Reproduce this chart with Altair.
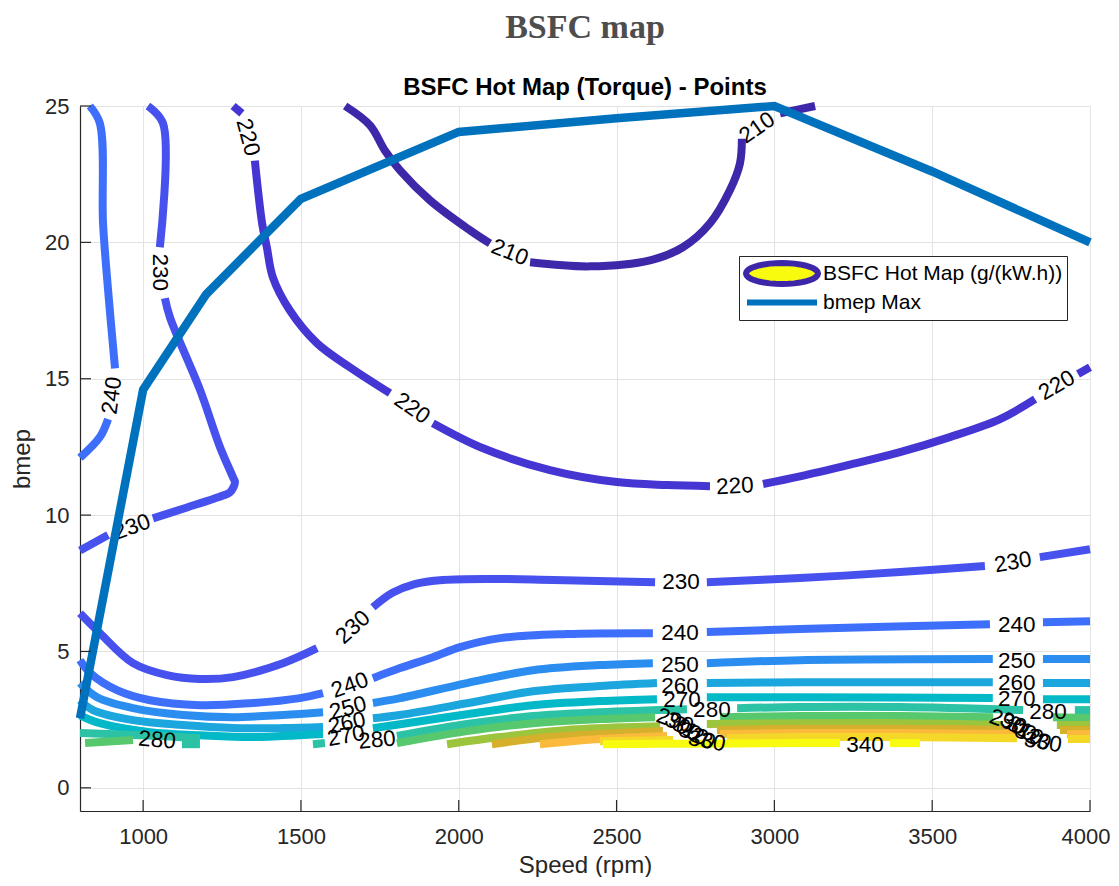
import math
import altair as alt
import pandas as pd

# ---------------- data ----------------
levels = [210, 220, 230, 240, 250, 260, 270, 280, 290, 300, 310, 320, 330, 340]
level_colors = ["#3e27a9", "#4535d3", "#4751ed", "#3e6ffa", "#2b8def", "#1ca6de", "#03b8c7",
                "#2cc2a5", "#57c86e", "#9cc43c", "#d5b02c", "#fbba3b", "#f3d829", "#f8fa0f"]

# contour segments (speed rpm, bmep) ; gaps are where labels sit
c210 = [
    [(1640, 25.0), (1719, 24.29), (1766, 23.37), (1814, 22.64), (1909, 21.54), (2036, 20.44), (2099, 19.96)],
    [(2226, 19.27), (2416, 19.12), (2606, 19.34), (2710, 19.82), (2796, 20.7), (2859, 21.91), (2891, 22.9), (2897, 23.8)],
    [(3018, 24.73), (3129, 25.0)],
]
c210_lab = [(2162, 19.63, 22), (2945, 24.2, 325)]

c220 = [
    [(1285, 25.0), (1313, 24.73)],
    [(1354, 23.0), (1377, 20.7), (1392, 19.82), (1411, 18.72), (1465, 17.5), (1551, 16.3), (1655, 15.42), (1782, 14.47)],
    [(1918, 13.37), (2077, 12.45), (2289, 11.65), (2501, 11.21), (2660, 11.1), (2796, 11.06)],
    [(2964, 11.14), (3081, 11.42), (3239, 11.85), (3398, 12.31), (3556, 12.86), (3715, 13.52), (3826, 14.25)],
    [(3962, 15.17), (4000, 15.42)],
]
c220_lab = [(1332, 23.85, 75), (1852, 13.92, 35), (2875, 11.06, 357), (3895, 14.76, 330)]

c230 = [
    [(1015, 25.0), (1063, 24.36), (1053, 19.82)],
    [(1069, 17.95), (1085, 17.25), (1180, 14.6), (1244, 12.48), (1285, 11.38), (1291, 11.2), (1275, 10.83),
     (1253, 10.72), (1139, 10.28), (1031, 9.88)],
    [(889, 9.27), (800, 8.7)],
    [(800, 6.4), (863, 5.67), (968, 4.57), (1076, 4.13), (1180, 3.99), (1285, 4.06), (1443, 4.57), (1551, 5.12)],
    [(1728, 6.62), (1790, 7.15), (1860, 7.47), (1950, 7.62), (2100, 7.66), (2300, 7.62), (2622, 7.54)],
    [(2786, 7.54), (3081, 7.69), (3398, 7.91), (3667, 8.13)],
    [(3841, 8.46), (4000, 8.75)],
]
c230_lab = [(1053, 18.9, 90), (965, 9.56, 340), (1665, 5.89, 318), (2704, 7.54, 0), (3756, 8.27, 350)]

c240 = [
    [(831, 25.0), (863, 24.36), (873, 20.7), (889, 18.25), (911, 15.38)],
    [(889, 13.52), (863, 12.86), (800, 12.1)],
    [(800, 4.68), (832, 4.21), (917, 3.58), (1022, 3.21), (1180, 3.03), (1339, 3.10), (1497, 3.29), (1570, 3.47)],
    [(1728, 4.02), (1814, 4.39), (1918, 4.79), (2004, 5.16), (2131, 5.49), (2343, 5.64), (2615, 5.67)],
    [(2786, 5.71), (3081, 5.82), (3683, 6.0)],
    [(3851, 6.07), (4000, 6.11)],
]
c240_lab = [(901, 14.39, 278), (1655, 3.76, 340), (2701, 5.67, 0), (3768, 5.96, 0)]

c250 = [
    [(800, 3.84), (854, 3.32), (968, 2.92), (1126, 2.67), (1285, 2.59), (1443, 2.67), (1570, 2.77)],
    [(1728, 3.11), (1814, 3.29), (2026, 3.84), (2235, 4.31), (2447, 4.50), (2615, 4.57)],
    [(2786, 4.57), (3081, 4.68), (3692, 4.72)],
    [(3851, 4.72), (4000, 4.72)],
]
c250_lab = [(1649, 2.92, 345), (2701, 4.50, 0), (3768, 4.64, 0)]

c260 = [
    [(800, 3.21), (841, 2.85), (968, 2.48), (1126, 2.30), (1285, 2.19), (1443, 2.19), (1570, 2.23)],
    [(1728, 2.55), (1814, 2.67), (2026, 3.10), (2235, 3.54), (2447, 3.73), (2628, 3.84)],
    [(2786, 3.84), (3081, 3.87), (3692, 3.87)],
    [(3851, 3.84), (4000, 3.84)],
]
c260_lab = [(1646, 2.37, 348), (2701, 3.73, 0), (3768, 3.84, 0)]

c270 = [
    [(800, 2.66), (863, 2.37), (1022, 2.04), (1180, 1.93), (1339, 1.86), (1497, 1.93), (1570, 1.97)],
    [(1728, 2.19), (1814, 2.33), (2026, 2.70), (2235, 3.03), (2447, 3.18), (2628, 3.25)],
    [(2786, 3.32), (3081, 3.32), (3692, 3.29)],
    [(3851, 3.25), (4000, 3.25)],
]
c270_lab = [(1643, 1.90, 350), (2707, 3.21, 0), (3768, 3.25, 0)]

c280 = [
    [(800, 2.01), (990, 1.93), (1180, 1.82)],
    [(1123, 1.60), (1180, 1.60)],
    [(1538, 1.60), (1576, 1.64)],
    [(1804, 1.90), (2026, 2.34), (2235, 2.63), (2447, 2.77), (2723, 2.88)],
    [(2882, 2.92), (3081, 2.96), (3398, 2.96), (3788, 2.85)],
    [(3952, 2.85), (4000, 2.85)],
]
c280_lab = [(1044, 1.75, 5), (1741, 1.75, 355), (2802, 2.85, 0), (3867, 2.77, 0)]

c290 = [
    [(816, 1.64), (968, 1.75)],
    [(1804, 1.64), (2026, 2.08), (2235, 2.37), (2447, 2.52), (2622, 2.59)],
    [(2828, 2.59), (3081, 2.63), (3398, 2.63), (3693, 2.59)],
    [(3883, 2.59), (4000, 2.56)],
]
c290_lab = [(2685, 2.45, 20), (3740, 2.41, 20)]

c300 = [
    [(1963, 1.60), (2131, 1.86), (2343, 2.12), (2543, 2.23), (2638, 2.26)],
    [(2786, 2.34), (3081, 2.37), (3398, 2.37), (3724, 2.30)],
    [(3895, 2.30), (4000, 2.30)],
]
c300_lab = [(2710, 2.23, 30), (3772, 2.23, 30)]

c310 = [
    [(2105, 1.60), (2289, 1.86), (2511, 2.01), (2647, 2.08)],
    [(2818, 2.12), (3081, 2.17), (3398, 2.17), (3746, 2.12)],
    [(3905, 2.12), (4000, 2.12)],
]
c310_lab = [(2733, 2.08, 30), (3794, 2.08, 30)]

c320 = [
    [(2257, 1.60), (2447, 1.79), (2660, 1.90)],
    [(2828, 1.97), (3081, 2.01), (3398, 2.01), (3769, 1.97)],
    [(3927, 1.97), (4000, 1.97)],
]
c320_lab = [(2755, 1.90, 25), (3819, 1.86, 25)]

c330 = [
    [(2447, 1.71), (2679, 1.75)],
    [(2850, 1.82), (3081, 1.86), (3398, 1.86), (3769, 1.82)],
    [(3930, 1.79), (4000, 1.79)],
]
c330_lab = [(2786, 1.71, 10), (3851, 1.67, 10)]

c340 = [
    [(2457, 1.60), (2764, 1.62), (3081, 1.64), (3208, 1.64)],
    [(3366, 1.64), (3461, 1.64)],
]
c340_lab = [(3287, 1.58, 0)]

bmep_rpm = [800, 1000, 1200, 1500, 2000, 2500, 3000, 3500, 4000]
bmep_max = [2.55, 14.6, 18.1, 21.6, 24.05, 24.55, 25.0, 22.6, 20.0]

x_ticks = [1000, 1500, 2000, 2500, 3000, 3500, 4000]
y_ticks = [0, 5, 10, 15, 20, 25]

legend_names = ["BSFC Hot Map (g/(kW.h))", "bmep Max"]
legend_fill = ["#f9fb0e", "transparent"]
legend_stroke = ["#3e26a8", "#0072bd"]

# legend symbol shapes (ellipse polygon and a bar)
_pts = [(3.6 * math.cos(math.radians(a)), 1.05 * math.sin(math.radians(a))) for a in range(0, 360, 10)]
ellipse_path = "M " + " L ".join(f"{px:.3f} {py:.3f}" for px, py in _pts) + " Z"
bar_path = "M -3.5 0 L 3.5 0"
legend_shapes = [ellipse_path, bar_path]

# ---------------- tables ----------------
contours = {210: c210, 220: c220, 230: c230, 240: c240, 250: c250, 260: c260, 270: c270,
            280: c280, 290: c290, 300: c300, 310: c310, 320: c320, 330: c330, 340: c340}
contour_labels = {210: c210_lab, 220: c220_lab, 230: c230_lab, 240: c240_lab, 250: c250_lab,
                  260: c260_lab, 270: c270_lab, 280: c280_lab, 290: c290_lab, 300: c300_lab,
                  310: c310_lab, 320: c320_lab, 330: c330_lab, 340: c340_lab}

rows = []
for lev in levels:
    for si, seg in enumerate(contours[lev]):
        for i, (xv, yv) in enumerate(seg):
            rows.append({"level": lev, "seg": f"{lev}-{si}", "i": i, "x": xv, "y": yv})
df_lines = pd.DataFrame(rows)

lrows = []
for lev in levels:
    for (xv, yv, ang) in contour_labels[lev]:
        lrows.append({"x": xv, "y": yv, "angle": ang, "label": str(lev)})
df_labels = pd.DataFrame(lrows)

df_bmep = pd.DataFrame({"x": bmep_rpm, "y": bmep_max})
df_xt = pd.DataFrame({"x": x_ticks})
df_yt = pd.DataFrame({"y": y_ticks})
df_leg = pd.DataFrame({"name": legend_names})

FONT = "Liberation Sans"
xscale = alt.Scale(domain=[800, 4000], nice=False, zero=False)
yscale = alt.Scale(domain=[-0.85, 25], nice=False, zero=False)

xaxis = alt.Axis(values=x_ticks, title="Speed (rpm)", format="d", ticks=False, grid=True,
                 gridColor="#e3e3e3", gridWidth=1, domainColor="#262626", domainWidth=1.2,
                 labelFont=FONT, labelFontSize=22, labelColor="#262626", labelPadding=15,
                 titleFont=FONT, titleFontSize=24, titleFontWeight="normal", titleColor="#262626",
                 titlePadding=6, labelFlush=5, labelFlushOffset=20)
yaxis = alt.Axis(values=y_ticks, title="bmep", format="d", ticks=False, grid=True,
                 gridColor="#e3e3e3", gridWidth=1, domainColor="#262626", domainWidth=1.2,
                 labelFont=FONT, labelFontSize=22, labelColor="#262626", labelPadding=11,
                 titleFont=FONT, titleFontSize=24, titleFontWeight="normal", titleColor="#262626",
                 titlePadding=10, labelFlush=False)

X = alt.X("x:Q", scale=xscale, axis=xaxis)
Y = alt.Y("y:Q", scale=yscale, axis=yaxis)

lines = alt.Chart(df_lines).mark_line(strokeWidth=8, interpolate="catmull-rom", strokeJoin="round").encode(
    x=X, y=Y,
    color=alt.Color("level:O", scale=alt.Scale(domain=levels, range=level_colors), legend=None),
    detail="seg:N",
    order=alt.Order("i:Q"),
)

labels = alt.Chart(df_labels).mark_text(font=FONT, fontSize=22.5, color="#000000",
                                        align="center", baseline="middle").encode(
    x=X, y=Y,
    text="label:N",
    angle=alt.Angle("angle:Q", scale=None),
)

bmep = alt.Chart(df_bmep).mark_line(strokeWidth=8.5, color="#0072bd", strokeJoin="miter").encode(
    x=X, y=Y,
)

xt = alt.Chart(df_xt).mark_rule(color="#262626", strokeWidth=1.2).encode(
    x=X, y=alt.value(705), y2=alt.value(694),
)
yt = alt.Chart(df_yt).mark_rule(color="#262626", strokeWidth=1.2).encode(
    y=Y, x=alt.value(0), x2=alt.value(11),
)

legend_layer = alt.Chart(df_leg).mark_point(opacity=1, strokeWidth=6, size=400).encode(
    shape=alt.Shape("name:N", scale=alt.Scale(domain=legend_names, range=legend_shapes),
                    legend=alt.Legend(title=None, orient="none", legendX=659, legendY=150,
                                      padding=4, symbolSize=400, symbolStrokeWidth=6,
                                      symbolOffset=26, labelOffset=28, clipHeight=27,
                                      labelFont=FONT, labelFontSize=21, labelColor="#000000",
                                      labelLimit=500, strokeColor="#262626", fillColor="#ffffff",
                                      rowPadding=2, symbolOpacity=1)),
    fill=alt.Fill("name:N", scale=alt.Scale(domain=legend_names, range=legend_fill)),
    stroke=alt.Stroke("name:N", scale=alt.Scale(domain=legend_names, range=legend_stroke)),
).transform_filter("false")

chart = alt.layer(lines, labels, bmep, xt, yt, legend_layer).properties(
    width=1010, height=705,
    autosize=alt.AutoSizeParams(type="none"),
    padding={"left": 72, "top": 98, "right": 21, "bottom": 66},
    title=alt.TitleParams(text="BSFC map", subtitle="BSFC Hot Map (Torque) - Points",
                          font="Liberation Serif", fontSize=34, fontWeight="bold", color="#4d4d4d",
                          subtitleFont=FONT, subtitleFontSize=24, subtitleFontWeight="bold",
                          subtitleColor="#000000", anchor="middle", offset=-11, subtitlePadding=31),
).configure_view(strokeWidth=0).configure(background="white")

chart.save("out.html", embed_options={"renderer": "svg", "actions": False})
